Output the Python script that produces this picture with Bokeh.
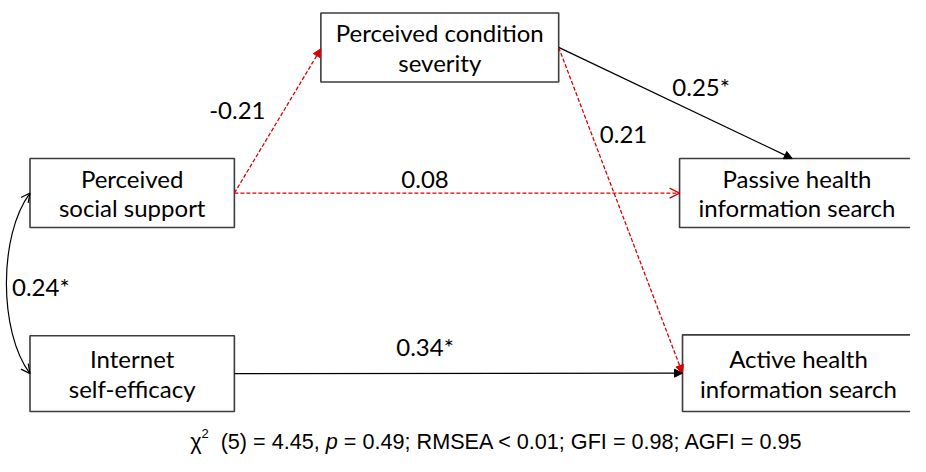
from bokeh.plotting import figure
from bokeh.models import Range1d, Arrow, NormalHead, OpenHead, ColumnDataSource
from bokeh.embed import file_html
from bokeh.resources import INLINE
from bokeh.core.properties import value

# ---------------- data ----------------
node_ids = ["support", "severity", "efficacy", "passive", "active"]
node_lines = [
    ["Perceived", "social support"],
    ["Perceived condition", "severity"],
    ["Internet", "self-efficacy"],
    ["Passive health", "information search"],
    ["Active health", "information search"],
]
edge_from = ["support", "support", "severity", "severity", "efficacy"]
edge_to = ["severity", "passive", "passive", "active", "active"]
edge_coef = ["-0.21", "0.08", "0.25*", "0.21", "0.34*"]
edge_significant = [False, False, True, False, True]
cov_pair = ["support", "efficacy"]
cov_coef = "0.24*"
fit_df = "5"
fit_chi2 = "4.45"
fit_p = "0.49"
fit_rmsea = "< 0.01"
fit_gfi = "0.98"
fit_agfi = "0.95"

# ---------------- layout (reference pixel units) ----------------
W, H = 910, 456
XR, YR = 926, 476
SX = W / XR
box = {  # left, right, top, bottom
    "support": (30, 238, 165, 237),
    "severity": (326, 568, 13, 85),
    "efficacy": (30, 238, 350, 429),
    "passive": (691, 930, 165, 237),
    "active": (694, 930, 349, 429),
}
edge_anchor = [("right", "left"), ("right", "left"), ("right", "top"), ("right", "left"), ("right", "left")]
edge_end_frac = [0.52, 0.5, 0.48, 0.5, 0.5]
edge_head = ["filled", "open", "filled", "filled", "filled"]
label_pos = [(241, 115), (432, 187), (713, 90), (634, 140), (432, 361)]
cov_label_pos = (41, 299)
line_gap = 31
font_box = "24px"
RED = "#dc0000"
BORDER = "#3c3c3c"


def anchor(name, side, frac=0.5):
    l, r, t, b = box[name]
    if side == "right":
        return r, t + (b - t) * frac
    if side == "left":
        return l, t + (b - t) * frac
    if side == "top":
        return l + (r - l) * frac, t
    return l + (r - l) * frac, b


p = figure(width=W, height=H, x_range=Range1d(0, XR), y_range=Range1d(YR, 0),
           output_backend="svg", toolbar_location=None, min_border=0,
           x_axis_type=None, y_axis_type=None)
p.grid.visible = False
p.outline_line_color = None
p.background_fill_color = "white"

# edges
for i, (a, b) in enumerate(zip(edge_from, edge_to)):
    sa, sb = edge_anchor[i]
    x0, y0 = anchor(a, sa, 0.5)
    x1, y1 = anchor(b, sb, edge_end_frac[i])
    col = "black" if edge_significant[i] else RED
    dash = "solid" if edge_significant[i] else "4 2"
    if edge_head[i] == "filled":
        head = NormalHead(size=8, fill_color=col, line_color=col, line_width=1)
    else:
        head = OpenHead(size=10, line_color=col, line_width=1.3)
    src = ColumnDataSource(dict(x0=[x0], y0=[y0], x1=[x1], y1=[y1]))
    p.add_layout(Arrow(end=head, x_start="x0", y_start="y0", x_end="x1", y_end="y1",
                       source=src, line_color=col, line_width=1.3, line_dash=dash))

# covariance curve
cx0, cy0 = anchor(cov_pair[0], "left")
cx1, cy1 = anchor(cov_pair[1], "left")
bulge = -2
p.bezier(x0=[cx0], y0=[cy0], x1=[cx1], y1=[cy1], cx0=[bulge], cy0=[cy0 + 44],
         cx1=[bulge], cy1=[cy1 - 44], line_color="black", line_width=1.2)
for (ex, ey, tx, ty) in [(cx0, cy0, bulge, cy0 + 44), (cx1, cy1, bulge, cy1 - 44)]:
    src = ColumnDataSource(dict(x0=[ex + (tx - ex) * 0.2], y0=[ey + (ty - ey) * 0.2], x1=[ex], y1=[ey]))
    p.add_layout(Arrow(end=OpenHead(size=9, line_color="black", line_width=1.2),
                       x_start="x0", y_start="y0", x_end="x1", y_end="y1", source=src,
                       line_alpha=0))

# boxes
p.quad(left=[box[n][0] for n in node_ids], right=[box[n][1] for n in node_ids],
       top=[box[n][2] for n in node_ids], bottom=[box[n][3] for n in node_ids],
       fill_color="white", line_color=BORDER, line_width=1.6)

# box labels
tx, ty, tt = [], [], []
for n, lines in zip(node_ids, node_lines):
    l, r, t, b = box[n]
    xc = (l + r) / 2
    yc = (t + b) / 2
    k = len(lines)
    for j, s in enumerate(lines):
        tx.append(xc)
        ty.append(yc + (j - (k - 1) / 2) * line_gap)
        tt.append(s)
p.text(x=tx, y=ty, text=tt, text_font=value("Lato"), text_font_size=font_box,
       text_align="center", text_baseline="middle", text_color="black")

# coefficient labels
lx = [q[0] for q in label_pos] + [cov_label_pos[0]]
ly = [q[1] for q in label_pos] + [cov_label_pos[1]]
p.text(x=lx, y=ly, text=edge_coef + [cov_coef], text_font=value("Lato"),
       text_font_size=font_box, text_align="center", text_baseline="middle", text_color="black")

# fit statistics caption (Arial-metric layout of segments; spaces advanced manually)
ARIAL = {' ': 278, '(': 333, ')': 333, '=': 584, ',': 278, '.': 278, ';': 278, '<': 584,
         'R': 722, 'M': 833, 'S': 667, 'E': 667, 'A': 667, 'G': 778, 'F': 611, 'I': 278,
         'p': 556, 'χ': 520}
def em(s):
    return sum(ARIAL.get(c, 556) for c in s) / 1000.0

F = 22.0
sup_scale = 0.6
segs = [
    ("χ", "normal", 1.0, 0),
    ("2", "normal", sup_scale, -8),
    (f"  ({fit_df}) = {fit_chi2}, ", "normal", 1.0, 0),
    ("p", "italic", 1.0, 0),
    (f" = {fit_p}; RMSEA {fit_rmsea}; GFI = {fit_gfi}; AGFI = {fit_agfi}", "normal", 1.0, 0),
]
x = 193.0
base = 460.5
for s, style, sc, dy in segs:
    lead = len(s) - len(s.lstrip(" "))
    core = s.strip(" ")
    xs = x + em(" " * lead) * F * sc
    p.text(x=[xs], y=[base + dy], text=[core], text_font=value("Liberation Sans"),
           text_font_size=f"{F * sc * SX:.2f}px", text_font_style=style,
           text_align="left", text_baseline="alphabetic", text_color="black")
    x += em(s) * F * sc

open("out.html", "w").write(file_html(p, INLINE))
